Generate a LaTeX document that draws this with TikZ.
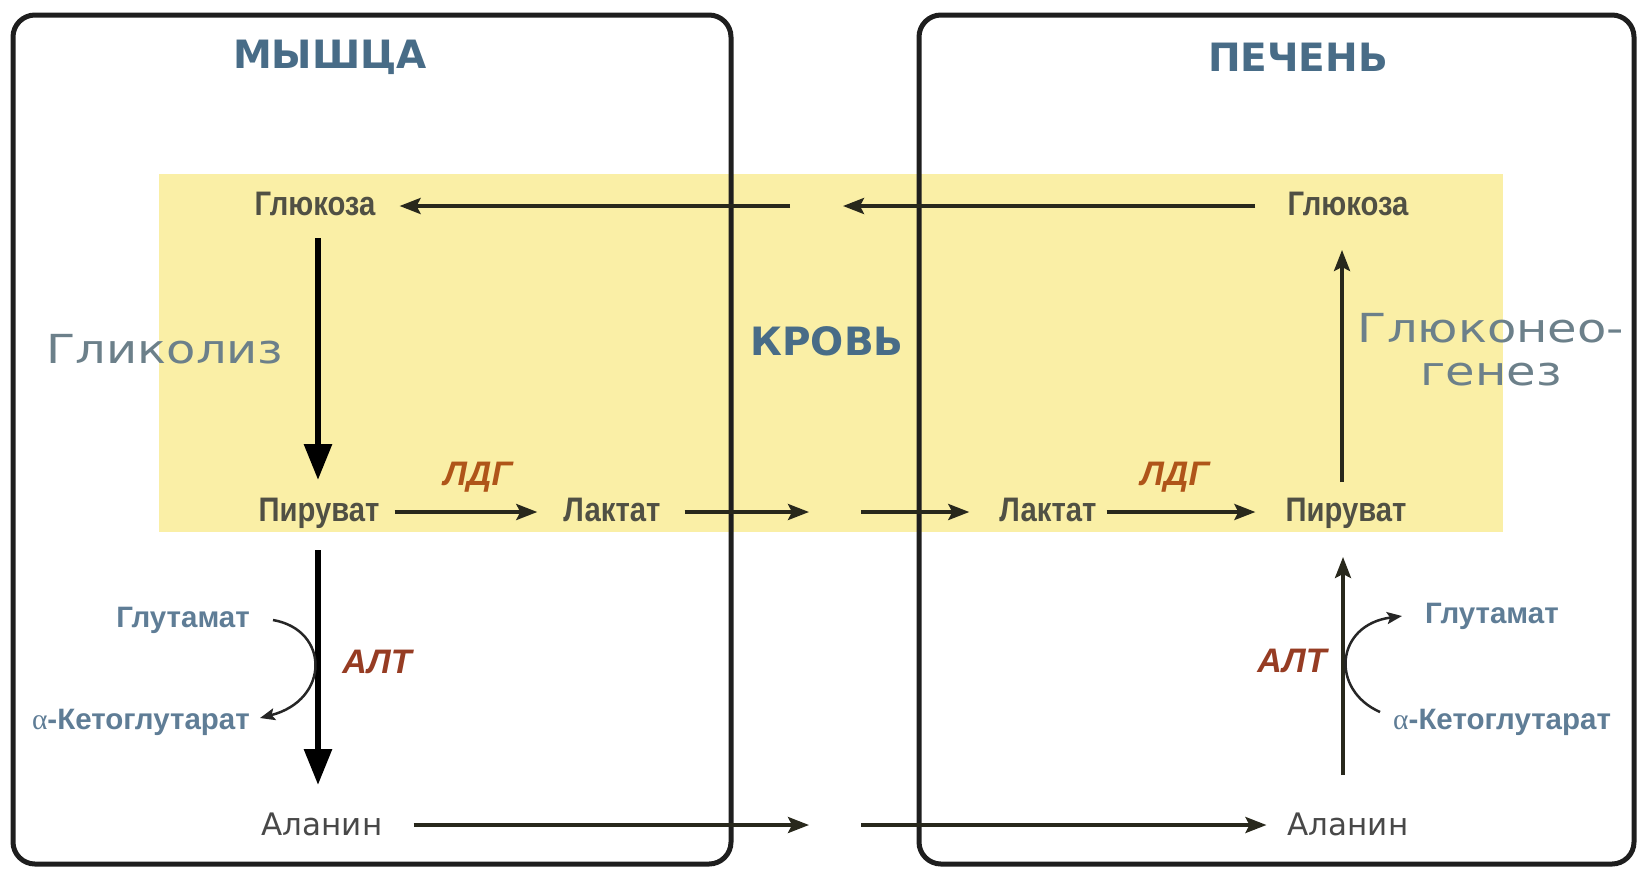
\documentclass[tikz,border=0pt]{standalone}
\usepackage{fontspec}
\usetikzlibrary{arrows.meta,calc}
\newfontfamily\cmpf[FakeStretch=0.86]{Liberation Sans}
\newfontfamily\aaf{Liberation Sans}
\newfontfamily\labf{DejaVu Sans}
\newfontfamily\widef[FakeStretch=1.2]{DejaVu Sans}
\newfontfamily\serf{Liberation Serif}
\definecolor{titleblue}{RGB}{72,108,135}
\definecolor{proccol}{RGB}{108,128,138}
\definecolor{aacol}{RGB}{95,125,150}
\definecolor{cmpcol}{RGB}{80,80,68}
\definecolor{alacol}{RGB}{72,72,72}
\definecolor{ldgcol}{RGB}{175,85,25}
\definecolor{altcol}{RGB}{150,60,35}
\definecolor{arrcol}{RGB}{40,40,28}
\definecolor{boxcol}{RGB}{30,30,30}
\definecolor{yel}{RGB}{250,239,166}
\begin{document}
\begin{tikzpicture}[x=1pt,y=-1pt,
  cmp/.style={inner sep=0pt, text=cmpcol, font=\cmpf\bfseries\fontsize{34}{38}\selectfont, anchor=base},
  ttl/.style={inner sep=0pt, text=titleblue, font=\labf\bfseries\fontsize{39}{44}\selectfont, anchor=base},
  proc/.style={inner sep=0pt, text=proccol, font=\widef\fontsize{40}{46}\selectfont, anchor=base},
  aa/.style={inner sep=0pt, text=aacol, font=\aaf\bfseries\fontsize{29.5}{32}\selectfont},
  enz/.style={inner sep=0pt, font=\aaf\bfseries\itshape\fontsize{34}{38}\selectfont, anchor=base},
  ala/.style={inner sep=0pt, text=alacol, font=\labf\fontsize{31}{35}\selectfont, anchor=base},
  arr/.style={draw=arrcol, line width=3.5pt, -{Stealth[length=21pt,width=16pt,inset=4pt]}},
  bigarr/.style={draw=black, line width=6pt, -{Triangle[length=36pt,width=27pt]}},
  curv/.style={draw=black!85, line width=2.5pt, -{Stealth[length=15pt,width=12pt,inset=3pt]}},
  cellbox/.style={draw=boxcol, line width=5pt, rounded corners=22pt}]
\useasboundingbox (0,0) rectangle (1637,868);
\fill[yel] (159,174) rectangle (1503,532);
\draw[cellbox] (13,15) rectangle (731,864);
\draw[cellbox] (919,15) rectangle (1634,864);

\node[ttl] (muscle) at (330,68) {МЫШЦА};
\node[ttl] (liver) at (1298,71) {ПЕЧЕНЬ};
\node[ttl] (blood) at (827,355) {КРОВЬ};
\node[proc] (glyc) at (165,363) {Гликолиз};
\node[proc] (gng1) at (1491,342) {Глюконео-};
\node[proc] (gng2) at (1491,385) {генез};

\node[cmp] (glucL) at (315,215) {Глюкоза};
\node[cmp] (glucR) at (1348,215) {Глюкоза};
\node[cmp] (pyrL) at (319,521) {Пируват};
\node[cmp] (lactL) at (612,521) {Лактат};
\node[cmp] (lactR) at (1048,521) {Лактат};
\node[cmp] (pyrR) at (1346,521) {Пируват};
\node[ala] (alaL) at (322,835) {Аланин};
\node[ala] (alaR) at (1348,835) {Аланин};

\node[enz, text=ldgcol] (ldgL) at (478,485) {ЛДГ};
\node[enz, text=ldgcol] (ldgR) at (1175,485) {ЛДГ};
\node[enz, text=altcol] (altL) at (377,673) {АЛТ};
\node[enz, text=altcol] (altR) at (1292,672) {АЛТ};

\node[aa, anchor=base east] (glutL) at (250,627) {Глутамат};
\node[aa, anchor=base east] (ketoL) at (250,729) {{\serf\mdseries α}-Кетоглутарат};
\node[aa, anchor=base west] (glutR) at (1425,623) {Глутамат};
\node[aa, anchor=base west] (ketoR) at (1393,729) {{\serf\mdseries α}-Кетоглутарат};

\coordinate (bG1) at (843,206);
\coordinate (bG2) at (790,206);
\coordinate (bL1) at (809,512);
\coordinate (bL2) at (861,512);
\coordinate (bA1) at (809,825);
\coordinate (bA2) at (861,825);

\draw[arr] ($(glucR.base west)+(-32,-9)$) -- (bG1);
\draw[arr] (bG2) -- ($(glucL.base east)+(24,-9)$);
\draw[bigarr] ($(glucL.base)+(3,23)$) -- ($(pyrL.base)+(-1,-41)$);
\draw[arr] ($(pyrL.base east)+(15,-9)$) -- ($(lactL.base west)+(-26,-9)$);
\draw[arr] ($(lactL.base east)+(24,-9)$) -- (bL1);
\draw[arr] (bL2) -- ($(lactR.base west)+(-30,-9)$);
\draw[arr] ($(lactR.base east)+(10,-9)$) -- ($(pyrR.base west)+(-30,-9)$);
\draw[arr] ($(pyrR.base)+(-4,-39)$) -- ($(glucR.base)+(-6,35)$);
\draw[bigarr] ($(pyrL.base)+(-1,29)$) -- ($(alaL.base)+(-4,-50)$);
\draw[arr] ($(alaR.base)+(-5,-60)$) -- ($(pyrR.base)+(-3,36)$);
\draw[arr] ($(alaL.base east)+(31,-10)$) -- (bA1);
\draw[arr] (bA2) -- ($(alaR.base west)+(-21,-10)$);

\draw[curv] ($(glutL.base east)+(23,-7)$) .. controls (330,630) and (330,700) .. ($(ketoL.base east)+(10,-11)$);
\draw[curv] ($(ketoR.base west)+(-13,-17)$) .. controls (1330,690) and (1335,625) .. ($(glutR.base west)+(-23,-7)$);
\end{tikzpicture}
\end{document}
